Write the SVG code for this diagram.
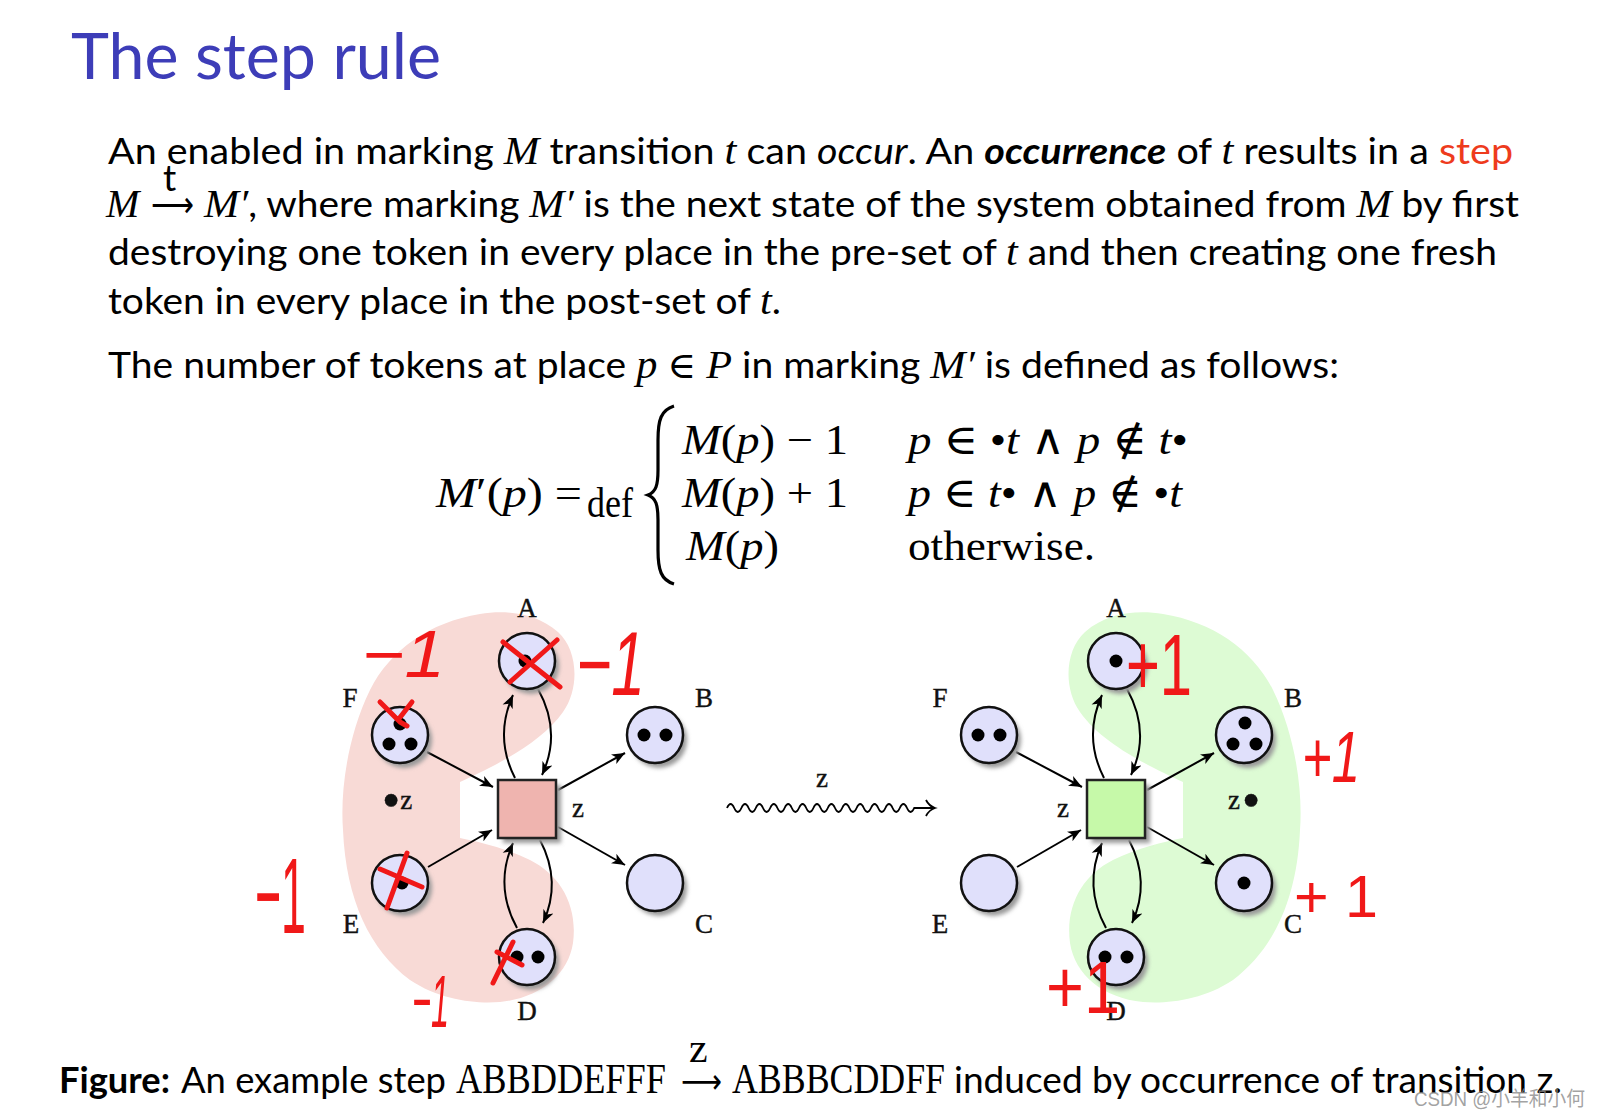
<svg xmlns="http://www.w3.org/2000/svg" width="1601" height="1116" viewBox="0 0 1601 1116">
<defs>
<style>
.title{font-family:Lato,"Open Sans",sans-serif;font-size:64px;fill:#3d3db8}
.body{font-family:Lato,"Open Sans",sans-serif;font-size:37px;fill:#000}
.mi{font-family:"Liberation Serif","DejaVu Serif",serif;font-style:italic;font-size:40px}
.math{font-family:"Liberation Serif","DejaVu Serif",serif;font-size:42px;fill:#000}
.it{font-style:italic}
.lbl{font-family:"Liberation Serif","DejaVu Serif",serif;font-size:27px;fill:#111;stroke:#111;stroke-width:0.4}
.red{font-family:"Liberation Sans",sans-serif;fill:#f01818}
.rx{stroke:#f01818;stroke-width:5;stroke-linecap:round;stroke-linejoin:round;fill:none}
.pl{fill:#e0e0fb;stroke:#111;stroke-width:2.5}
.sh{fill:#9a9a9a;filter:url(#blur)}
.tk{fill:#000}
.arc{fill:none;stroke:#000;stroke-width:2;marker-end:url(#ah)}
.tr{stroke:#222;stroke-width:2.5}
.cap{font-family:Lato,"Open Sans",sans-serif;font-size:36px;fill:#000}
</style>
<filter id="blur" x="-30%" y="-30%" width="160%" height="160%"><feGaussianBlur stdDeviation="2"/></filter>
<marker id="ah" markerWidth="15" markerHeight="12" refX="13" refY="6" orient="auto" markerUnits="userSpaceOnUse"><path d="M0,0.5 L13,6 L0,11.5 L3.5,6 Z" fill="#000"/></marker>
<path id="blob" d="M460,782 C490,768 540,745 563,712 C580,688 578,650 558,632 C535,612 505,610 480,614 C430,622 390,650 370,690 C348,735 340,790 343,830 C346,900 370,950 410,980 C440,1000 475,1004 500,1002 C540,998 568,975 573,943 C578,905 560,875 530,860 C505,848 480,842 460,838 Z"/>
</defs>
<rect width="1601" height="1116" fill="#fff"/>

<text class="title" x="71" y="79" textLength="370" lengthAdjust="spacingAndGlyphs">The step rule</text>

<g id="paragraph">
<text class="body" x="108" y="164" textLength="1405" lengthAdjust="spacingAndGlyphs">An enabled in marking <tspan class="mi">M</tspan> transition <tspan class="mi">t</tspan> can <tspan class="it">occur</tspan>. An <tspan font-weight="bold" font-style="italic">occurrence</tspan> of <tspan class="mi">t</tspan> results in a <tspan fill="#ee3b1d">step</tspan></text>
<text class="mi" x="106" y="217">M</text>
<text x="151" y="217" font-family="DejaVu Sans,sans-serif" font-size="36" textLength="43" lengthAdjust="spacingAndGlyphs">⟶</text>
<text class="body" x="163" y="191" font-size="30">t</text>
<text class="body" x="204" y="217" textLength="1315" lengthAdjust="spacingAndGlyphs"><tspan class="mi">M′</tspan>, where marking <tspan class="mi">M′</tspan> is the next state of the system obtained from <tspan class="mi">M</tspan> by first</text>
<text class="body" x="108" y="265" textLength="1389" lengthAdjust="spacingAndGlyphs">destroying one token in every place in the pre-set of <tspan class="mi">t</tspan> and then creating one fresh</text>
<text class="body" x="108" y="314" textLength="673" lengthAdjust="spacingAndGlyphs">token in every place in the post-set of <tspan class="mi">t</tspan>.</text>
<text class="body" x="108" y="378" textLength="1231" lengthAdjust="spacingAndGlyphs">The number of tokens at place <tspan class="mi">p</tspan> <tspan font-family="Liberation Serif,DejaVu Serif,serif">∈</tspan> <tspan class="mi">P</tspan> in marking <tspan class="mi">M′</tspan> is defined as follows:</text>
</g>

<g id="formula">
<text class="math" x="436" y="507" textLength="146" lengthAdjust="spacingAndGlyphs"><tspan class="it">M</tspan>′(<tspan class="it">p</tspan>) =</text>
<text class="math" x="587" y="517" font-size="30" textLength="46" lengthAdjust="spacingAndGlyphs">def</text>
<path d="M674,406 C661,410 658,420 658,440 L658,470 C658,485 656,492 648,495 C656,498 658,505 658,520 L658,550 C658,570 661,580 674,584" fill="none" stroke="#000" stroke-width="3.2"/>
<text class="math" x="682" y="454" textLength="166" lengthAdjust="spacingAndGlyphs"><tspan class="it">M</tspan>(<tspan class="it">p</tspan>) − 1</text>
<text class="math" x="682" y="507" textLength="166" lengthAdjust="spacingAndGlyphs"><tspan class="it">M</tspan>(<tspan class="it">p</tspan>) + 1</text>
<text class="math" x="686" y="560" textLength="93" lengthAdjust="spacingAndGlyphs"><tspan class="it">M</tspan>(<tspan class="it">p</tspan>)</text>
<text class="math" x="908" y="454" textLength="280" lengthAdjust="spacingAndGlyphs"><tspan class="it">p</tspan> ∈ •<tspan class="it">t</tspan>  ∧ <tspan class="it">p</tspan> ∉ <tspan class="it">t</tspan>•</text>
<text class="math" x="908" y="507" textLength="274" lengthAdjust="spacingAndGlyphs"><tspan class="it">p</tspan> ∈ <tspan class="it">t</tspan>• ∧ <tspan class="it">p</tspan> ∉ •<tspan class="it">t</tspan></text>
<text class="math" x="908" y="560" textLength="187" lengthAdjust="spacingAndGlyphs">otherwise.</text>
</g>

<g id="regions">
<use href="#blob" fill="#f8dad6"/>
<use href="#blob" fill="#ddfbd4" transform="translate(1643,0) scale(-1,1)"/>
</g>

<g id="connectors">
<g id="conn-left">
<path class="arc" d="M427,752 L493,787"/>
<path class="arc" d="M428,867 L492,830"/>
<path class="arc" d="M558,790 L625,753"/>
<path class="arc" d="M558,827 L625,865"/>
<path class="arc" d="M515,778 Q494,737 513,695"/>
<path class="arc" d="M538,689 Q562,732 542,775"/>
<path class="arc" d="M540,840 Q562,882 543,923"/>
<path class="arc" d="M517,928 Q494,886 513,843"/>
</g>
<g id="conn-right" transform="translate(589,0)">
<path class="arc" d="M427,752 L493,787"/>
<path class="arc" d="M428,867 L492,830"/>
<path class="arc" d="M558,790 L625,753"/>
<path class="arc" d="M558,827 L625,865"/>
<path class="arc" d="M515,778 Q494,737 513,695"/>
<path class="arc" d="M538,689 Q562,732 542,775"/>
<path class="arc" d="M540,840 Q562,882 543,923"/>
<path class="arc" d="M517,928 Q494,886 513,843"/>
</g>
<g id="step-arrow">
<path d="M727,808 q3.6,-8 7.2,0 t7.2,0 t7.2,0 t7.2,0 t7.2,0 t7.2,0 t7.2,0 t7.2,0 t7.2,0 t7.2,0 t7.2,0 t7.2,0 t7.2,0 t7.2,0 t7.2,0 t7.2,0 t7.2,0 t7.2,0 t7.2,0 t7.2,0 t7.2,0 t7.2,0 t7.2,0 t7.2,0 t7.2,0 t7.2,0 l20,0" fill="none" stroke="#000" stroke-width="1.8"/>
<path d="M926,800 Q929,806 935,808 Q929,810 926,816" fill="none" stroke="#000" stroke-width="1.8"/>
<text class="lbl" x="822" y="787" text-anchor="middle">z</text>
</g>
</g>

<g id="net-left">
<g id="L-z"><rect x="503" y="785" width="58" height="58" class="sh"/><rect x="498" y="780" width="58" height="58" fill="#efb4af" class="tr"/><text class="lbl" x="572" y="817">z</text></g>
<g id="L-A"><circle class="sh" cx="531" cy="666" r="28"/><circle class="pl" cx="527" cy="661" r="28"/><circle class="tk" cx="525" cy="661" r="6.5"/><text class="lbl" x="527" y="617" text-anchor="middle">A</text></g>
<g id="L-F"><circle class="sh" cx="404" cy="740" r="28"/><circle class="pl" cx="400" cy="735" r="28"/><circle class="tk" cx="400" cy="724" r="6.5"/><circle class="tk" cx="389" cy="744" r="6.5"/><circle class="tk" cx="411" cy="744" r="6.5"/><text class="lbl" x="350" y="707" text-anchor="middle">F</text></g>
<g id="L-B"><circle class="sh" cx="659" cy="740" r="28"/><circle class="pl" cx="655" cy="735" r="28"/><circle class="tk" cx="644" cy="735" r="6.5"/><circle class="tk" cx="666" cy="735" r="6.5"/><text class="lbl" x="704" y="707" text-anchor="middle">B</text></g>
<g id="L-E"><circle class="sh" cx="404" cy="888" r="28"/><circle class="pl" cx="400" cy="883" r="28"/><circle class="tk" cx="402" cy="883" r="6.5"/><text class="lbl" x="351" y="933" text-anchor="middle">E</text></g>
<g id="L-C"><circle class="sh" cx="659" cy="888" r="28"/><circle class="pl" cx="655" cy="883" r="28"/><text class="lbl" x="704" y="933" text-anchor="middle">C</text></g>
<g id="L-D"><circle class="sh" cx="531" cy="962" r="28"/><circle class="pl" cx="527" cy="957" r="28"/><circle class="tk" cx="517" cy="957" r="6.5"/><circle class="tk" cx="538" cy="957" r="6.5"/><text class="lbl" x="527" y="1020" text-anchor="middle">D</text></g>
<text class="lbl" x="382" y="809"><tspan font-size="52" dy="9">•</tspan><tspan dy="-9">z</tspan></text>
</g>

<g id="net-right" transform="translate(589,0)">
<g id="R-z"><rect x="503" y="785" width="58" height="58" class="sh"/><rect x="498" y="780" width="58" height="58" fill="#c6f9a9" class="tr"/><text class="lbl" x="468" y="817">z</text></g>
<g id="R-A"><circle class="sh" cx="531" cy="666" r="28"/><circle class="pl" cx="527" cy="661" r="28"/><circle class="tk" cx="527" cy="661" r="6.5"/><text class="lbl" x="527" y="617" text-anchor="middle">A</text></g>
<g id="R-F"><circle class="sh" cx="404" cy="740" r="28"/><circle class="pl" cx="400" cy="735" r="28"/><circle class="tk" cx="389" cy="735" r="6.5"/><circle class="tk" cx="411" cy="735" r="6.5"/><text class="lbl" x="351" y="707" text-anchor="middle">F</text></g>
<g id="R-B"><circle class="sh" cx="659" cy="740" r="28"/><circle class="pl" cx="655" cy="735" r="28"/><circle class="tk" cx="656" cy="723" r="6.5"/><circle class="tk" cx="644" cy="744" r="6.5"/><circle class="tk" cx="667" cy="744" r="6.5"/><text class="lbl" x="704" y="707" text-anchor="middle">B</text></g>
<g id="R-E"><circle class="sh" cx="404" cy="888" r="28"/><circle class="pl" cx="400" cy="883" r="28"/><text class="lbl" x="351" y="933" text-anchor="middle">E</text></g>
<g id="R-C"><circle class="sh" cx="659" cy="888" r="28"/><circle class="pl" cx="655" cy="883" r="28"/><circle class="tk" cx="655" cy="883" r="6.5"/><text class="lbl" x="704" y="933" text-anchor="middle">C</text></g>
<g id="R-D"><circle class="sh" cx="531" cy="962" r="28"/><circle class="pl" cx="527" cy="957" r="28"/><circle class="tk" cx="516" cy="957" r="6.5"/><circle class="tk" cx="538" cy="957" r="6.5"/><text class="lbl" x="527" y="1020" text-anchor="middle">D</text></g>
<text class="lbl" x="639" y="809">z<tspan font-size="52" dx="2" dy="9">•</tspan></text>
</g>

<g id="annotations">
<path class="rx" d="M503,642 L560,687 M557,640 L510,682"/>
<path class="rx" d="M380,702 L400,722 L407,726 M412,702 L398,720"/>
<path class="rx" d="M380,869 L422,887 M407,853 L387,908"/>
<path class="rx" d="M497,952 L522,965 M513,942 L493,983"/>
<text class="red" x="362" y="677" font-size="66" font-style="italic" textLength="83" lengthAdjust="spacingAndGlyphs">−1</text>
<text class="red" x="576" y="695" font-size="90" font-style="italic" textLength="69" lengthAdjust="spacingAndGlyphs">−1</text>
<text class="red" transform="translate(255,933) scale(1,1.35)" x="0" y="0" font-size="80" textLength="51" lengthAdjust="spacingAndGlyphs">−1</text>
<text class="red" x="412" y="1027" font-size="74" font-style="italic" textLength="37" lengthAdjust="spacingAndGlyphs">−1</text>
<text class="red" x="1126" y="695" font-size="88" textLength="66" lengthAdjust="spacingAndGlyphs">+1</text>
<text class="red" x="1302" y="782" font-size="72" font-style="italic" textLength="58" lengthAdjust="spacingAndGlyphs">+1</text>
<text class="red" x="1294" y="917" font-size="60" textLength="84" lengthAdjust="spacingAndGlyphs">+ 1</text>
<text class="red" x="1046" y="1013" font-size="74" textLength="74" lengthAdjust="spacingAndGlyphs">+1</text>
</g>

<g id="caption">
<text class="cap" x="59" y="1093" font-weight="bold" textLength="111" lengthAdjust="spacingAndGlyphs">Figure:</text>
<text class="cap" x="181" y="1093" textLength="265" lengthAdjust="spacingAndGlyphs">An example step</text>
<text class="math" x="456" y="1093" font-size="38" textLength="210" lengthAdjust="spacingAndGlyphs">ABBDDEFFF</text>
<text x="681" y="1093" font-family="DejaVu Sans,sans-serif" font-size="34" textLength="41" lengthAdjust="spacingAndGlyphs">⟶</text>
<text class="math" x="689" y="1062" font-size="28">z</text>
<text class="math" x="732" y="1093" font-size="38" textLength="213" lengthAdjust="spacingAndGlyphs">ABBBCDDFF</text>
<text class="cap" x="954" y="1093" textLength="608" lengthAdjust="spacingAndGlyphs">induced by occurrence of transition z.</text>
</g>
<text x="1414" y="1106" font-family="Liberation Sans,Noto Sans CJK SC,sans-serif" font-size="20" fill="#8a8a8a" fill-opacity="0.8" textLength="171" lengthAdjust="spacingAndGlyphs">CSDN @小羊和小何</text>
</svg>
